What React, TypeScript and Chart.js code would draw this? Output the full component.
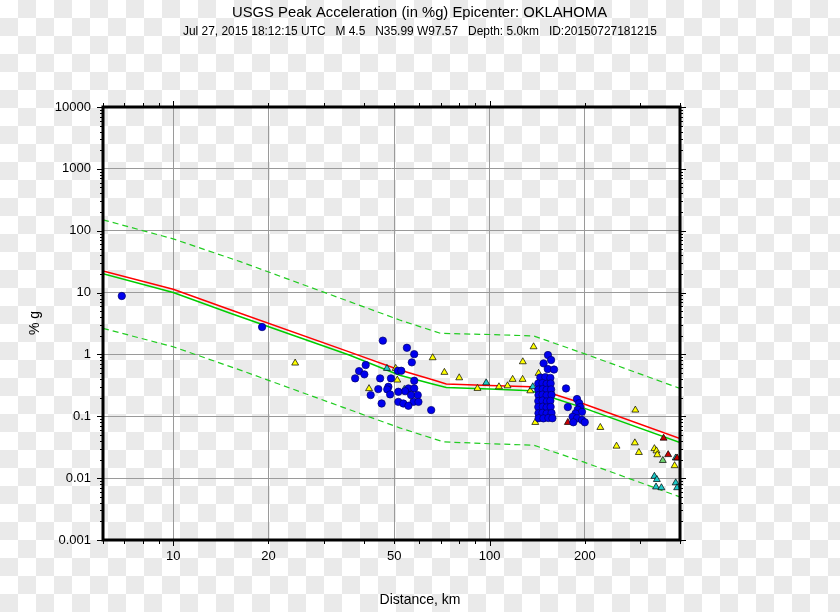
import React, { useEffect, useRef } from 'react';
import { Chart, registerables } from 'chart.js';

Chart.register(...registerables);

// ---- axis ranges & tick labels ----
const X_MIN = 6;
const X_MAX = 400;
const Y_MIN = 0.001;
const Y_MAX = 10000;
const xTickValues = [10, 20, 50, 100, 200];
const yTickValues = [0.001, 0.01, 0.1, 1, 10, 100, 1000, 10000];

const titleText = 'USGS Peak Acceleration (in %g) Epicenter: OKLAHOMA';
const subtitleText = 'Jul 27, 2015 18:12:15 UTC   M 4.5   N35.99 W97.57   Depth: 5.0km   ID:20150727181215';
const xAxisTitle = 'Distance, km';
const yAxisTitle = '% g';

// ---- prediction curves [distance km, %g] ----
const redCurve: [number, number][] = [
  [6, 22.4], [10, 11.3], [15, 5.37], [36, 1.1], [52, 0.56], [66.5, 0.385], [73, 0.332],
  [100, 0.316], [135, 0.3], [159, 0.229], [194, 0.165], [400, 0.0438],
];
const greenCurve: [number, number][] = [
  [6, 20.2], [10, 10], [15, 4.73], [36, 0.977], [52, 0.46], [66.5, 0.33], [73, 0.292],
  [100, 0.275], [135, 0.258], [159, 0.197], [194, 0.142], [400, 0.0375],
];
const upperCurve: [number, number][] = [
  [6, 150], [10, 73.8], [16.3, 31.6], [52, 3.6], [70, 2.19], [100, 2.1], [138, 1.99],
  [198, 1.04], [400, 0.282],
];
const lowerCurve: [number, number][] = [
  [6, 2.64], [10, 1.33], [16.3, 0.558], [52, 0.065], [71.5, 0.0386], [100, 0.036],
  [138, 0.0341], [198, 0.0183], [400, 0.00497],
];

// ---- observations [distance km, %g] ----
const bluePoints: [number, number][] = [
  [6.88, 8.8], [19.1, 2.77],
  [46.0, 1.67], [54.8, 1.28], [57.8, 1.01], [56.8, 0.744], [40.6, 0.673], [38.7, 0.538],
  [40.2, 0.476], [37.6, 0.41], [45.1, 0.41], [48.8, 0.41], [51.3, 0.544], [52.6, 0.544],
  [57.8, 0.375], [47.9, 0.3], [44.5, 0.275], [47.5, 0.272], [55.4, 0.282], [57.8, 0.282],
  [54.1, 0.255], [51.5, 0.249], [56.5, 0.22], [59.3, 0.22], [42.1, 0.22], [45.6, 0.161],
  [51.5, 0.171], [53.4, 0.161], [57.5, 0.171], [59.6, 0.171], [55.4, 0.148], [65.4, 0.126],
  [48.5, 0.226],
  [153, 0.977], [156.5, 0.811], [148.2, 0.717], [152.8, 0.58], [159.9, 0.57],
  [144.7, 0.424], [150.1, 0.43], [155.7, 0.418],
  [142.6, 0.339], [147, 0.345], [151.5, 0.335], [156, 0.34],
  [142.6, 0.271], [147.2, 0.275], [151.5, 0.268], [156.5, 0.272],
  [142.8, 0.22], [147, 0.224], [151.5, 0.218], [157, 0.222],
  [142.6, 0.176], [147, 0.18], [151.8, 0.174], [155.7, 0.178],
  [142.6, 0.141], [147.3, 0.143], [151.5, 0.139], [156, 0.142],
  [142.8, 0.112], [147, 0.114], [151.5, 0.111], [157, 0.113],
  [143, 0.093], [148, 0.0925], [153.4, 0.094], [158, 0.093],
  [174.5, 0.282], [176.8, 0.141],
  [189, 0.19], [192, 0.163], [193.5, 0.141], [190, 0.128], [196, 0.118], [187, 0.111],
  [183, 0.098], [189, 0.093], [196, 0.087], [200, 0.08], [184, 0.08],
];
const yellowTriangles: [number, number][] = [
  [24.3, 0.725], [66.1, 0.884], [72.0, 0.513], [50.5, 0.595], [51.1, 0.385], [41.6, 0.28],
  [80.2, 0.419], [91.6, 0.282], [107.1, 0.3], [114, 0.311], [118.3, 0.395], [127.4, 0.761],
  [137.8, 1.33], [127.2, 0.395], [134.5, 0.258], [142.9, 0.494], [139.5, 0.0795],
  [224, 0.066], [289, 0.126], [252, 0.0329], [288, 0.0372], [296.6, 0.026],
  [332, 0.03], [337, 0.0276], [339, 0.0239], [384.6, 0.0159],
];
const cyanTriangles: [number, number][] = [
  [47.4, 0.595], [53.8, 0.272], [97.6, 0.348], [137, 0.3],
  [332, 0.0107], [338, 0.0095], [336, 0.0072], [349.4, 0.007], [387.7, 0.0084],
  [391.7, 0.007], [387.7, 0.0212],
];
const redTriangles: [number, number][] = [
  [176.8, 0.0795], [355, 0.0443], [367, 0.024], [391.7, 0.0212],
];
const greenTriangles: [number, number][] = [[353, 0.0193]];

const FONT = '"Liberation Sans", Arial, Helvetica, sans-serif';

const toXY = (arr: [number, number][]) => arr.map(([x, y]) => ({ x, y }));

const decorPlugin = {
  id: 'decor',
  afterDraw(chart: any) {
    const { ctx, chartArea: a } = chart;
    const xs = chart.scales.x;
    const ys = chart.scales.y;
    ctx.save();
    ctx.strokeStyle = '#000';
    ctx.lineWidth = 1;
    ctx.beginPath();
    // x ticks (top & bottom), outward
    for (let d = 1; d <= 100; d *= 10) {
      for (let m = 1; m <= 9; m++) {
        const v = m * d;
        if (v < X_MIN || v > X_MAX) continue;
        const px = Math.round(xs.getPixelForValue(v)) + 0.5;
        const len = m === 1 ? 6 : 4;
        ctx.moveTo(px, a.bottom);
        ctx.lineTo(px, a.bottom + len);
        ctx.moveTo(px, a.top);
        ctx.lineTo(px, a.top - len);
      }
    }
    // y ticks (left & right), outward
    for (let d = 0.001; d <= 10000; d *= 10) {
      for (let m = 1; m <= 9; m++) {
        const v = m * d;
        if (v < Y_MIN * 0.999 || v > Y_MAX * 1.001) continue;
        const py = Math.round(ys.getPixelForValue(v)) + 0.5;
        const len = m === 1 ? 6 : 3;
        ctx.moveTo(a.left, py);
        ctx.lineTo(a.left - len, py);
        ctx.moveTo(a.right, py);
        ctx.lineTo(a.right + len, py);
      }
    }
    ctx.stroke();
    // frame
    ctx.lineWidth = 3;
    ctx.strokeRect(a.left, a.top, a.right - a.left, a.bottom - a.top);

    // titles
    ctx.fillStyle = '#000';
    ctx.textAlign = 'center';
    ctx.textBaseline = 'middle';
    ctx.font = `14.8px ${FONT}`;
    ctx.fillText(titleText, 419.5, 13, 376);
    ctx.font = `12px ${FONT}`;
    ctx.fillText(subtitleText, 420, 32, 474);
    ctx.font = `14px ${FONT}`;
    ctx.fillText(xAxisTitle, 420, 600);
    ctx.save();
    ctx.translate(35, 323);
    ctx.rotate(-Math.PI / 2);
    ctx.fillText(yAxisTitle, 0, 0);
    ctx.restore();
    ctx.restore();
  },
};

export default function App() {
  const ref = useRef<HTMLCanvasElement | null>(null);
  useEffect(() => {
    if (!ref.current) return;
    const lineDs = (label: string, data: [number, number][], color: string, dash: number[], width: number) => ({
      type: 'line' as const,
      label,
      data: toXY(data),
      borderColor: color,
      backgroundColor: color,
      borderWidth: width,
      borderDash: dash,
      pointRadius: 0,
      fill: false,
      tension: 0,
    });
    const ptDs = (label: string, data: [number, number][], fill: string, style: string, r: number, border: string) => ({
      type: 'scatter' as const,
      label,
      data: toXY(data),
      pointStyle: style,
      pointRadius: r,
      backgroundColor: fill,
      borderColor: border,
      borderWidth: 0.7,
      showLine: false,
    });
    const chart = new Chart(ref.current, {
      type: 'scatter',
      data: {
        datasets: [
          ptDs('Stations', bluePoints, '#0000ee', 'circle', 3.7, '#00006a'),
          ptDs('Red', redTriangles, '#c80000', 'triangle', 4, '#000'),
          ptDs('Green', greenTriangles, '#6fd26f', 'triangle', 4, '#000'),
          ptDs('Cyan', cyanTriangles, '#1ec8c8', 'triangle', 4, '#000'),
          ptDs('Yellow', yellowTriangles, '#ffff00', 'triangle', 4, '#000'),
          lineDs('Median', redCurve, '#ff0000', [], 1.5),
          lineDs('Mean', greenCurve, '#00cc00', [], 1.5),
          lineDs('Upper', upperCurve, '#22cc22', [6, 4], 1.2),
          lineDs('Lower', lowerCurve, '#22cc22', [6, 4], 1.2),
        ] as any,
      },
      plugins: [decorPlugin],
      options: {
        responsive: false,
        animation: false,
        devicePixelRatio: 1,
        layout: { padding: { top: 107, right: 160, left: 0, bottom: 0 } },
        plugins: { legend: { display: false }, tooltip: { enabled: false }, title: { display: false } },
        scales: {
          x: {
            type: 'logarithmic',
            min: X_MIN,
            max: X_MAX,
            afterBuildTicks: (s: any) => { s.ticks = xTickValues.map((v) => ({ value: v })); },
            afterFit: (s: any) => { s.height = 72; },
            grid: { color: '#9a9a9a', lineWidth: 1, drawTicks: false },
            border: { display: false },
            ticks: {
              autoSkip: false,
              maxRotation: 0,
              padding: 9,
              color: '#000',
              font: { family: FONT, size: 13 },
              callback: (v: any) => String(v),
            },
          },
          y: {
            type: 'logarithmic',
            min: Y_MIN,
            max: Y_MAX,
            afterBuildTicks: (s: any) => { s.ticks = yTickValues.map((v) => ({ value: v })); },
            afterFit: (s: any) => { s.width = 103; },
            grid: { color: '#9a9a9a', lineWidth: 1, drawTicks: false },
            border: { display: false },
            ticks: {
              autoSkip: false,
              padding: 12,
              color: '#000',
              font: { family: FONT, size: 13 },
              callback: (v: any) => String(v),
            },
          },
        },
      } as any,
    });
    return () => chart.destroy();
  }, []);

  return (
    <div
      style={{
        position: 'fixed',
        left: 0,
        top: 0,
        width: 840,
        height: 612,
        background:
          'conic-gradient(#eaeaea 25%, #ffffff 0 50%, #eaeaea 0 75%, #ffffff 0) 0 0 / 36px 36px',
      }}
    >
      <canvas ref={ref} width={840} height={612} style={{ display: 'block' }} />
    </div>
  );
}
